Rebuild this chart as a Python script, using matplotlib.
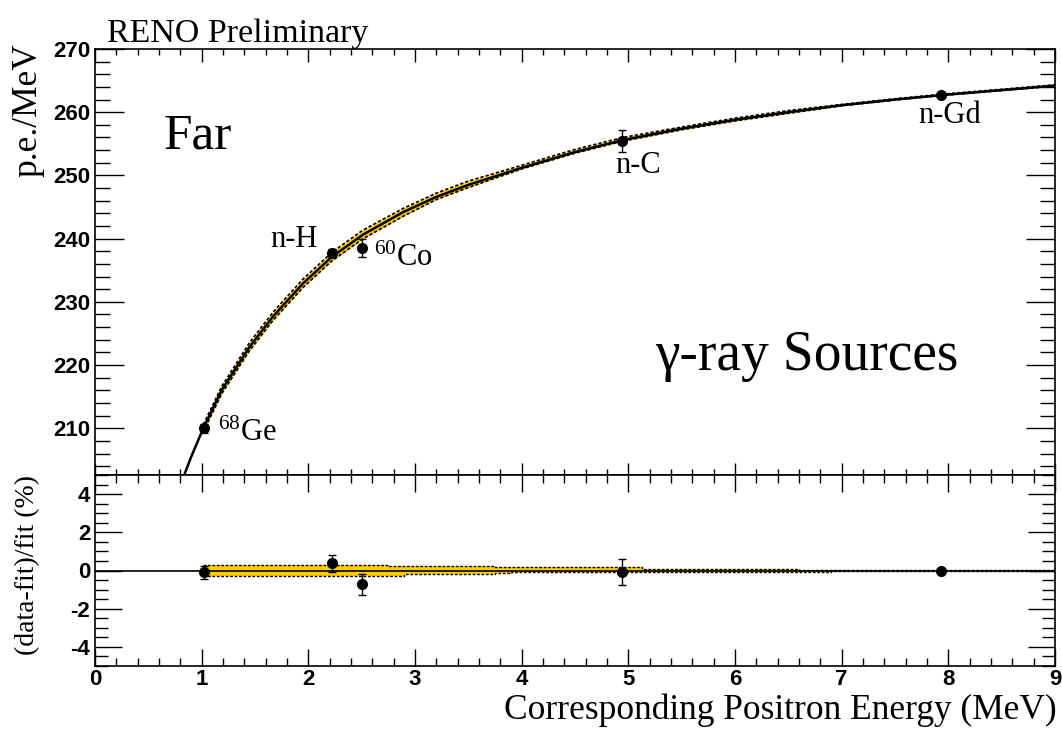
import numpy as np
import matplotlib
matplotlib.use("Agg")
import matplotlib.pyplot as plt
from matplotlib.ticker import MultipleLocator

plt.rcParams['mathtext.fontset'] = 'custom'
plt.rcParams['mathtext.rm'] = 'Liberation Serif'
plt.rcParams['mathtext.default'] = 'regular'
plt.rcParams['axes.unicode_minus'] = False

# ============== data ==============
# calibration sources: energy (MeV), p.e./MeV, error
src_names = ["$^{68}$Ge", "n-H", "$^{60}$Co", "n-C", "n-Gd"]
src_e = [1.022, 2.223, 2.506, 4.945, 7.93]
src_pe = [210.0, 237.7, 238.5, 255.5, 262.8]
src_err = [0.7, 0.6, 1.45, 1.75, 0.15]

# residuals (data-fit)/fit in %
res_val = [-0.10, 0.38, -0.72, -0.08, 0.0]
res_err = [0.34, 0.45, 0.55, 0.70, 0.05]

# fitted curve, sampled along the drawn line
fit_e = [0.80, 0.90, 1.015, 1.19, 1.45, 1.67, 1.95, 2.22, 2.51, 2.89, 3.20,
         3.50, 4.00, 4.50, 4.95, 5.50, 6.00, 6.50, 7.00, 7.50, 7.93, 8.50, 9.00]
fit_pe = [201.0, 205.4, 210.0, 216.1, 222.9, 227.7, 232.9, 237.1, 240.6, 244.2, 246.6,
          248.5, 251.2, 253.7, 255.6, 257.4, 258.8, 260.0, 261.1, 262.0, 262.7, 263.5, 264.2]

# fit uncertainty band (%), step-wise
band_edges = [1.015, 1.30, 2.75, 2.90, 3.75, 3.90, 5.13, 6.60, 6.90, 9.00]
band_hi = [0.27, 0.30, 0.24, 0.24, 0.16, 0.16, 0.10, 0.05, 0.05, 0.05]
band_lo = [-0.27, -0.27, -0.27, -0.17, -0.15, -0.07, -0.07, -0.07, -0.03, -0.03]

# label positions (data coords)
lab_pos = [(1.15, 208.0), (1.64, 238.6), (2.62, 235.6), (4.88, 250.4), (7.72, 258.3)]
# ========================================================

BAND = '#ffcc00'
serif = 'Liberation Serif'
sans = 'Liberation Sans'
DASH = (0, (2, 1.2))

fig = plt.figure(figsize=(10.62, 7.29), dpi=100)
W, H = 1062.0, 729.0
ax1 = fig.add_axes([95 / W, 1 - 475 / H, 960 / W, (475 - 49) / H])
ax2 = fig.add_axes([95 / W, 1 - 666 / H, 960 / W, (666 - 475) / H])

# ---- top panel ----
fe = np.array(fit_e)
fp = np.array(fit_pe)
m = fe >= band_edges[0]
idx = np.clip(np.searchsorted(band_edges, fe[m], side='right') - 1, 0, len(band_hi) - 1)
up = fp[m] * (1 + np.array(band_hi)[idx] / 100.0)
dn = fp[m] * (1 + np.array(band_lo)[idx] / 100.0)
ax1.fill_between(fe[m], dn, up, color=BAND, lw=0, zorder=1)
ax1.plot(fe[m], up, color='black', lw=1.2, ls=DASH, zorder=2)
ax1.plot(fe[m], dn, color='black', lw=1.2, ls=DASH, zorder=2)
ax1.plot(fe, fp, color='black', lw=1.8, zorder=3)
ax1.errorbar(src_e, src_pe, yerr=src_err, fmt='o', color='black', ms=7,
             elinewidth=1.0, capsize=3, capthick=1.0, zorder=4)

for name, (tx, ty) in zip(src_names, lab_pos):
    ax1.text(tx, ty, name, fontsize=22, family=serif, va='baseline', ha='left')

ax1.text(0.64, 254.3, "Far", fontsize=37, family=serif, va='baseline')
ax1.text(5.25, 219.2, "γ-ray Sources", fontsize=40, family=serif, va='baseline')

ax1.set_xlim(0, 9)
ax1.set_ylim(202.6, 270)
ax1.xaxis.set_major_locator(MultipleLocator(1))
ax1.xaxis.set_minor_locator(MultipleLocator(0.2))
ax1.yaxis.set_major_locator(MultipleLocator(10))
ax1.yaxis.set_minor_locator(MultipleLocator(2))
ax1.tick_params(axis='both', which='both', direction='in', top=True, right=True, width=1.0)
ax1.tick_params(axis='x', which='major', length=9, labelbottom=False)
ax1.tick_params(axis='x', which='minor', length=4.5)
ax1.tick_params(axis='y', which='major', length=21)
ax1.tick_params(axis='y', which='minor', length=10.5)
ax1.set_yticks([210, 220, 230, 240, 250, 260, 270])

# ---- bottom panel ----
ax2.axhline(0, color='black', lw=1.2, zorder=2)
ax2.fill_between(band_edges, band_lo, band_hi, step='post', color=BAND, lw=0, zorder=1)
ax2.step(band_edges, band_hi, where='post', color='black', lw=1.0, ls=DASH, zorder=2)
ax2.step(band_edges, band_lo, where='post', color='black', lw=1.0, ls=DASH, zorder=2)
ax2.errorbar(src_e, res_val, yerr=res_err, fmt='o', color='black', ms=7,
             elinewidth=1.0, capsize=3, capthick=1.0, zorder=4)
ax2.set_xlim(0, 9)
ax2.set_ylim(-5, 5)
ax2.xaxis.set_major_locator(MultipleLocator(1))
ax2.xaxis.set_minor_locator(MultipleLocator(0.2))
ax2.yaxis.set_major_locator(MultipleLocator(2))
ax2.yaxis.set_minor_locator(MultipleLocator(0.5))
ax2.set_yticks([-4, -2, 0, 2, 4])
ax2.tick_params(axis='both', which='both', direction='in', top=True, right=True, width=1.0)
ax2.tick_params(axis='x', which='major', length=12.5, pad=2)
ax2.tick_params(axis='x', which='minor', length=6)
ax2.tick_params(axis='y', which='major', length=19.5)
ax2.tick_params(axis='y', which='minor', length=9.5)

for ax in (ax1, ax2):
    for sp in ax.spines.values():
        sp.set_linewidth(1.2)
    for lab in ax.get_xticklabels() + ax.get_yticklabels():
        lab.set_fontfamily(sans)
        lab.set_fontweight('bold')
        lab.set_fontsize(16)

# ---- titles ----
fig.text(107 / W, 1 - 42 / H, "RENO Preliminary", fontsize=24.5, family=serif,
         va='baseline', ha='left')
fig.text(28 / W, 1 - 43 / H, "p.e./MeV", fontsize=25.5, family=serif,
         rotation=90, ha='center', va='top')
fig.text(28 / W, 1 - 565 / H, "(data-fit)/fit (%)", fontsize=20, family=serif,
         rotation=90, ha='center', va='center')
fig.text(1057 / W, 1 - 719 / H, "Corresponding Positron Energy (MeV)", fontsize=25.5,
         family=serif, ha='right', va='baseline')

fig.savefig("out.png", dpi=100)
